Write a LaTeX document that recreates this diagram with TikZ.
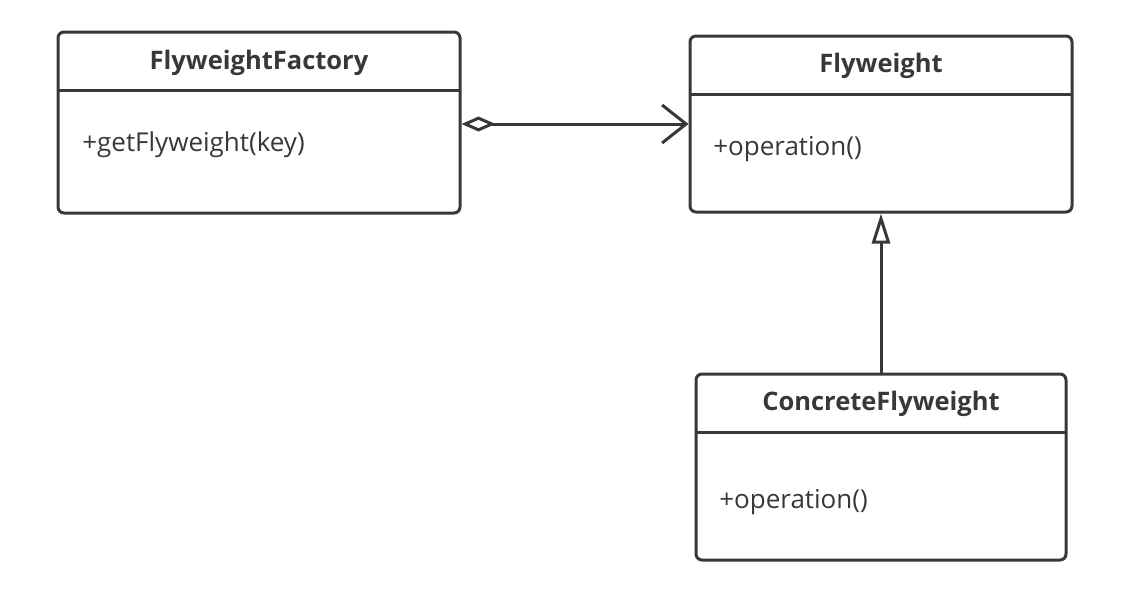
\documentclass[tikz,border=0pt]{standalone}
\usepackage{fontspec}
\setmainfont{Open Sans}
\usetikzlibrary{arrows.meta,positioning}

\definecolor{ink}{HTML}{383838}

\begin{document}
\begin{tikzpicture}[x=1pt,y=-1pt,line width=3pt,draw=ink,text=ink,
        cls/.style={draw=ink,rounded corners=6pt,inner sep=0pt},
        ttl/.style={font=\fontsize{25.5}{30}\selectfont\bfseries},
        mth/.style={anchor=west,font=\fontsize{26}{30}\selectfont},
        agg/.style={{Diamond[open,length=34pt,width=15pt]}-{Straight Barb[length=24pt,width=38pt]}},
        gen/.style={-{Triangle[open,length=30pt,width=18pt]}}]
        \useasboundingbox (0,0) rectangle (1136,608);

        \node[cls,minimum width=402pt,minimum height=181pt] (fac) at (259,122.5) {};
        \node[cls,minimum width=382pt,minimum height=176pt] (fly) [right=227pt of fac,yshift=-1.5pt] {};
        \node[cls,minimum width=370pt,minimum height=186pt] (con) [below=159pt of fly] {};

        % header lines
        \draw (fac.north west) ++(0,60) -- ++(402,0);
        \draw (fly.north west) ++(0,60) -- ++(382,0);
        \draw (con.north west) ++(0,60) -- ++(370,0);

        \node[ttl] (facT) at ([yshift=-32pt]fac.north) {FlyweightFactory};
        \node[ttl] (flyT) at ([yshift=-31pt]fly.north) {Flyweight};
        \node[ttl] (conT) at ([yshift=-31pt]con.north) {ConcreteFlyweight};

        \node[mth] (facM) at ([xshift=21pt,yshift=-114pt]fac.north west) {+getFlyweight(key)};
        \node[mth] (flyM) at ([xshift=20pt,yshift=-115pt]fly.north west) {+operation()};
        \node[mth] (conM) at ([xshift=20pt,yshift=-130pt]con.north west) {+operation()};

        \draw[agg] (fac.east |- fly.west) -- (fly.west);
        \draw[gen] (con.north) -- (fly.south);
\end{tikzpicture}
\end{document}
